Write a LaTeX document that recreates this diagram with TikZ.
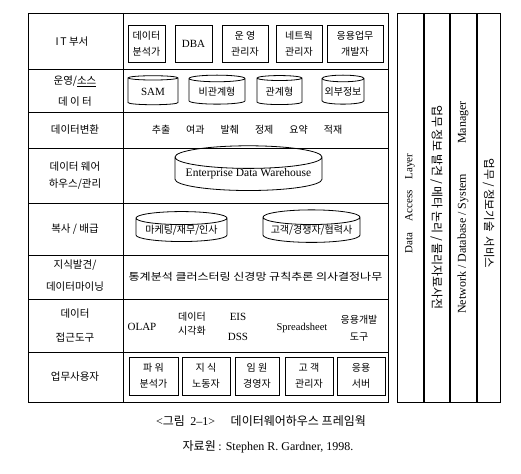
\documentclass[tikz,border=0pt]{standalone}
\usepackage{fontspec}
\setmainfont{Liberation Serif}
\newfontfamily\kr{Noto Sans CJK KR}
\usetikzlibrary{shapes.geometric}

\begin{document}
\begin{tikzpicture}[
  x=1pt, y=-1pt,
  font=\kr\fontsize{10}{13}\selectfont,
  frame/.style={line width=0.8pt},
  rowlabel/.style={align=center, inner sep=0pt, font=\kr\fontsize{10.5}{13}\selectfont},
  role/.style={rectangle, draw, line width=0.8pt, align=center, inner sep=0pt, minimum height=37, font=\kr\fontsize{10}{16}\selectfont},
  store/.style={cylinder, shape border rotate=90, aspect=0.18, draw, line width=0.8pt, inner sep=0pt, minimum height=29},
  tool/.style={align=center, inner sep=0pt},
  layer/.style={rectangle, draw, line width=0.8pt, inner sep=0pt, minimum width=389}
]
\useasboundingbox (0,0) rectangle (521,473);

% main table
\draw [frame] (28,13) rectangle (388,402);
\draw [frame] (123,13) -- (123,402);
\draw [frame] (28,69) -- (388,69);
\draw [frame] (28,112) -- (388,112);
\draw [frame] (28,148) -- (388,148);
\draw [frame] (28,203) -- (388,203);
\draw [frame] (28,255) -- (388,255);
\draw [frame] (28,299) -- (388,299);
\draw [frame] (28,352) -- (388,352);

% row labels
\node (itdept) [rowlabel] at (72,42) {I\,T 부서};
\node (opsource) [rowlabel, font=\kr\fontsize{10.5}{21}\selectfont] at (75,91) {운영/\underline{소스}\\데 이 터};
\node (transform) [rowlabel] at (75,130) {데이터변환};
\node (dwmgmt) [rowlabel, font=\kr\fontsize{10.5}{17}\selectfont] at (75,175.5) {데이터 웨어\\하우스/관리};
\node (distrib) [rowlabel] at (75,229) {복사 / 배급};
\node (mining) [rowlabel, font=\kr\fontsize{10.5}{22}\selectfont] at (75,276) {지식발견/\\데이터마이닝};
\node (access) [rowlabel, font=\kr\fontsize{10.5}{24}\selectfont] at (75,325.5) {데이터\\접근도구};
\node (bizuser) [rowlabel] at (75,377) {업무사용자};

% IT staff
\node (analyst) [role, minimum width=37] at (146.5,43.5) {데이터\\분석가};
\node (dba) [role, minimum width=37] at (193.5,43.5) {\rmfamily\fontsize{11}{13}\selectfont DBA};
\node (opsmgr) [role, minimum width=46] at (245,43.5) {운 영\\관리자};
\node (netmgr) [role, minimum width=46] at (299,43.5) {네트웍\\관리자};
\node (appdev) [role, minimum width=56] at (355,43.5) {응용업무\\개발자};

% source data
\node (sam) [store, minimum width=50] at (153,91.5) {\rmfamily\fontsize{11}{13}\selectfont SAM};
\node (nonrel) [store, minimum width=56] at (217,91.5) {비관계형};
\node (rel) [store, minimum width=45] at (279.5,91.5) {관계형};
\node (external) [store, minimum width=42] at (343,91.5) {외부정보};

% transformation steps
\node (steps) [tool] at (247,130) {추출\hspace{1.6em}여과\hspace{1.6em}발췌\hspace{1.6em}정제\hspace{1.6em}요약\hspace{1.6em}적재};

% warehouse
\node (edw) [store, minimum width=147, minimum height=28] at (248.5,174) {\rmfamily\fontsize{11.5}{13}\selectfont Enterprise Data Warehouse};

% marts
\node (mktmart) [store, minimum width=91, minimum height=28] at (181.5,230) {마케팅/재무/인사};
\node (custmart) [store, minimum width=97, minimum height=28] at (311.5,230) {고객/경쟁자/협력사};

% mining methods
\node (methods) [tool] at (255.5,277) {\scalebox{1.2}[1]{통계분석 클러스터링 신경망 규칙추론 의사결정나무}};

% access tools
\node (olap) [tool, font=\rmfamily\fontsize{11}{13}\selectfont] at (142,327) {OLAP};
\node (visual) [tool, font=\kr\fontsize{10}{14}\selectfont] at (192,324) {데이터\\시각화};
\node (eisdss) [tool, font=\rmfamily\fontsize{11}{20}\selectfont] at (238,327) {EIS\\DSS};
\node (sheet) [tool, font=\rmfamily\fontsize{10.5}{13}\selectfont] at (302,328) {Spreadsheet};
\node (apptool) [tool, font=\kr\fontsize{10}{17}\selectfont] at (359,328) {응용개발\\도구};

% business users
\node (power) [role, minimum width=49, minimum height=38] at (153.5,376) {파 워\\분석가};
\node (knowledge) [role, minimum width=48, minimum height=38] at (206,376) {지 식\\노동자};
\node (exec) [role, minimum width=44, minimum height=38] at (257,376) {임 원\\경영자};
\node (custmgr) [role, minimum width=48, minimum height=38] at (309,376) {고 객\\관리자};
\node (appserver) [role, minimum width=48, minimum height=38] at (361,376) {응용\\서버};

% side layers
\node (accesslayer) [layer, rotate=90, minimum height=26, font=\rmfamily\fontsize{11}{12}\selectfont] at (410,207.5) {\hspace{8pt}Data\hspace{1em}Access\hspace{1em}Layer};
\node (metadict) [layer, rotate=-90, minimum height=25, font=\kr\fontsize{12}{13}\selectfont] at (436.5,207.5) {업무\ 정보\ 발견\ /\ 메타\ 논리\ /\ 물리자료사전\hspace{4pt}};
\node (sysmgr) [layer, rotate=90, minimum height=26, font=\rmfamily\fontsize{12}{13}\selectfont] at (463,207.5) {Network / Database / System\hspace{2.5em}Manager};
\node (itservice) [layer, rotate=-90, minimum height=23, font=\kr\fontsize{11.5}{13}\selectfont] at (488.5,207.5) {\hspace{12pt}업무 / 정보기술\ \ 서비스};

% caption
\node (caption) [tool, font=\kr\fontsize{12}{14}\selectfont] at (261,421) {{\rmfamily <}그림\ \ {\rmfamily 2--1>}\hspace{1.3em}데이터웨어하우스 프레임웍};
\node (source) [tool, font=\kr\fontsize{12}{14}\selectfont] at (268,447) {자료원 {\rmfamily : Stephen R. Gardner, 1998.}};
\end{tikzpicture}
\end{document}
